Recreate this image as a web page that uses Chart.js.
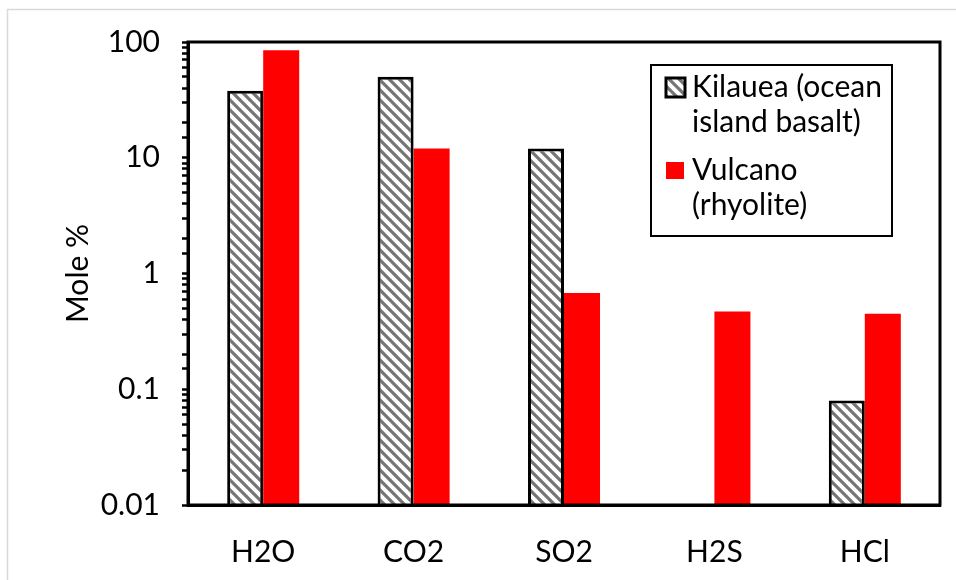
<!DOCTYPE html>
<html>
<head>
<meta charset="utf-8">
<script src="https://cdn.jsdelivr.net/npm/chart.js@4.4.1/dist/chart.umd.min.js"></script>
<style>
  html, body { margin: 0; padding: 0; background: #fff; }
  #wrap { position: relative; width: 956px; height: 580px; }
  canvas { display: block; }
</style>
</head>
<body>
<div id="wrap"><canvas id="c" width="956" height="580"></canvas></div>
<script>
// ---- data ----
const categories = ['H2O', 'CO2', 'SO2', 'H2S', 'HCl'];
const seriesNames = ['Kilauea (ocean island basalt)', 'Vulcano (rhyolite)'];
const kilaueaValues = [38, 50, 12, null, 0.08];
const vulcanoValues = [85, 12, 0.68, 0.47, 0.45];
const yTickLabels = ['0.01', '0.1', '1', '10', '100'];
const yAxisTitle = 'Mole %';

// ---- styling ----
const FONT = 'Lato, Carlito, Calibri, "Open Sans", sans-serif';
const FS = 30;

function makeHatch() {
  const s = 10;
  const c = document.createElement('canvas');
  c.width = s; c.height = s;
  const g = c.getContext('2d');
  g.fillStyle = '#ffffff';
  g.fillRect(0, 0, s, s);
  g.strokeStyle = '#767676';
  g.lineWidth = 3.2;
  g.beginPath();
  for (const o of [-s, 0, s]) {
    g.moveTo(o - 1, -1);
    g.lineTo(o + s + 1, s + 1);
  }
  g.stroke();
  return document.getElementById('c').getContext('2d').createPattern(c, 'repeat');
}
const hatch = makeHatch();

const frameAndLegend = {
  id: 'frameAndLegend',
  beforeDraw(chart) {
    const ctx = chart.ctx;
    ctx.save();
    ctx.fillStyle = '#fff';
    ctx.fillRect(0, 0, chart.width, chart.height);
    ctx.strokeStyle = '#d9d9d9';
    ctx.lineWidth = 1.5;
    ctx.beginPath();
    ctx.moveTo(7.5, chart.height);
    ctx.lineTo(7.5, 9.5);
    ctx.lineTo(chart.width, 9.5);
    ctx.stroke();
    ctx.restore();
  },
  afterDatasetsDraw(chart) {
    const ctx = chart.ctx;
    const a = chart.chartArea;
    ctx.save();
    ctx.strokeStyle = '#000';
    ctx.lineWidth = 3;
    ctx.strokeRect(a.left, a.top, a.right - a.left, a.bottom - a.top);

    // legend
    const lx = a.left + 463, ly = a.top + 23, lw = 241, lh = 171;
    ctx.fillStyle = '#fff';
    ctx.fillRect(lx, ly, lw, lh);
    ctx.lineWidth = 2;
    ctx.strokeRect(lx, ly, lw, lh);
    ctx.font = FS + 'px ' + FONT;
    ctx.fillStyle = '#000';
    ctx.textBaseline = 'alphabetic';
    ctx.textAlign = 'left';
    const maxW = 200;
    const itemTops = [ly + 13, ly + 96];
    chart.data.datasets.forEach((ds, i) => {
      const words = ds.label.split(' ');
      const lines = [];
      let cur = '';
      for (const w of words) {
        const t = cur ? cur + ' ' + w : w;
        if (cur && ctx.measureText(t).width > maxW) { lines.push(cur); cur = w; }
        else cur = t;
      }
      if (cur) lines.push(cur);
      const top = itemTops[i];
      if (i === 0) {
        ctx.fillStyle = ds.backgroundColor;
        ctx.fillRect(lx + 15, top, 19, 19);
        ctx.lineWidth = 3;
        ctx.strokeStyle = '#000';
        ctx.strokeRect(lx + 15, top, 19, 19);
      } else {
        ctx.fillStyle = ds.backgroundColor;
        ctx.fillRect(lx + 15, top + 1, 18, 17);
      }
      ctx.fillStyle = '#000';
      lines.forEach((ln, k) => {
        ctx.fillText(ln, lx + 41, top + 19 + k * 35);
      });
    });
    ctx.restore();
  }
};

new Chart(document.getElementById('c'), {
  type: 'bar',
  data: {
    labels: categories,
    datasets: [
      {
        label: seriesNames[0],
        data: kilaueaValues,
        backgroundColor: hatch,
        borderColor: '#000',
        borderWidth: 3,
        borderSkipped: 'bottom'
      },
      {
        label: seriesNames[1],
        data: vulcanoValues,
        backgroundColor: '#ff0000',
        borderWidth: 0
      }
    ]
  },
  options: {
    responsive: false,
    animation: false,
    devicePixelRatio: 1,
    datasets: { bar: { categoryPercentage: 0.479, barPercentage: 1 } },
    layout: { padding: { top: 42, right: 16, bottom: 0, left: 0 } },
    plugins: { legend: { display: false }, tooltip: { enabled: false } },
    scales: {
      x: {
        grid: { display: false },
        border: { display: true, color: '#000', width: 3 },
        ticks: { color: '#000', font: { family: FONT, size: FS }, padding: 21, maxRotation: 0 },
        afterFit(scale) { scale.height = 75; }
      },
      y: {
        type: 'logarithmic',
        min: 0.01,
        max: 100,
        grid: { display: true, drawOnChartArea: false, drawTicks: true, tickLength: 6, tickColor: '#000', tickWidth: 2.5 },
        border: { display: true, color: '#000', width: 3 },
        ticks: {
          autoSkip: false,
          color: '#000',
          font: { family: FONT, size: FS },
          padding: 22,
          callback(value) {
            const v = Number(Number(value).toPrecision(3));
            const s = String(v);
            return yTickLabels.includes(s) ? s : '';
          }
        },
        title: { display: true, text: yAxisTitle, color: '#000', font: { family: FONT, size: FS }, padding: { top: 60, bottom: 0 } },
        afterFit(scale) { scale.width = 188; }
      }
    }
  },
  plugins: [frameAndLegend]
});
</script>
</body>
</html>
